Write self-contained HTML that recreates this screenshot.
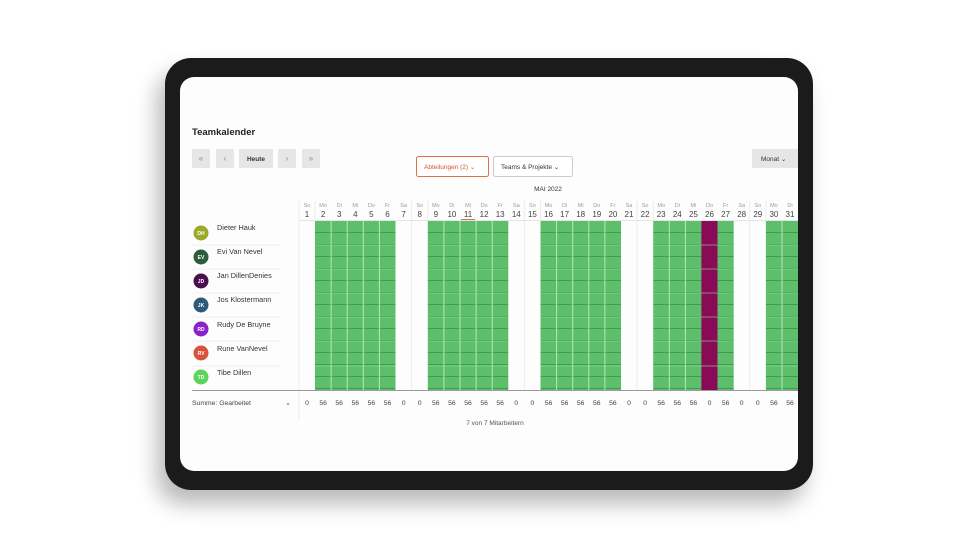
<!DOCTYPE html>
<html><head><meta charset="utf-8"><style>
html,body{margin:0;padding:0;background:#fff;width:960px;height:540px;overflow:hidden}
#sh{position:absolute;left:165px;top:58px;width:648px;height:432px;border-radius:26px;box-shadow:-8px 14px 22px rgba(0,0,0,0.28)}
svg{position:absolute;left:0;top:0;font-family:"Liberation Sans",sans-serif}
</style></head><body>
<div id="sh"></div>
<svg width="960" height="540" viewBox="0 0 960 540">
<defs>
<clipPath id="scr"><rect x="180" y="77" width="618" height="394" rx="14"/></clipPath>
<clipPath id="gc">
<rect x="315" y="221" width="80.5" height="169"/><rect x="427.8" y="221" width="80.5" height="169"/>
<rect x="540.5" y="221" width="80.5" height="169"/><rect x="653.2" y="221" width="80.5" height="169"/>
<rect x="765.9" y="221" width="34" height="169"/></clipPath>
<pattern id="hl" x="0" y="221" width="10" height="12" patternUnits="userSpaceOnUse">
<rect width="10" height="12" fill="#5dbf6b"/><rect y="11" width="10" height="1" fill="#3f9c4e"/></pattern>
</defs>
<rect x="165" y="58" width="648" height="432" rx="26" fill="#1b1b1b"/>
<rect x="180" y="77" width="618" height="394" rx="14" fill="#fdfdfd"/>
<g clip-path="url(#scr)">
<text x="192" y="135" font-size="9.5" font-weight="bold" fill="#222">Teamkalender</text>
<g fill="#e6e6e6">
<rect x="192" y="149" width="18" height="19"/><rect x="216" y="149" width="18" height="19"/>
<rect x="239" y="149" width="34" height="19"/><rect x="278" y="149" width="18" height="19"/>
<rect x="302" y="149" width="18" height="19"/><rect x="752" y="149" width="48" height="19"/></g>
<g font-size="8" fill="#888" text-anchor="middle">
<text x="201" y="161">«</text><text x="225" y="161">‹</text><text x="287" y="161">›</text><text x="311" y="161">»</text></g>
<text x="256" y="161" font-size="6.5" text-anchor="middle" fill="#333" font-weight="bold">Heute</text>
<text x="761" y="161" font-size="6.5" fill="#333">Monat  ⌄</text>
<rect x="416.5" y="156.5" width="72" height="20" rx="2" fill="#fff" stroke="#e0704a"/>
<text x="424" y="169" font-size="6.5" fill="#d9532e">Abteilungen (2)  ⌄</text>
<rect x="493.5" y="156.5" width="79" height="20" rx="2" fill="#fff" stroke="#ccc"/>
<text x="501" y="169" font-size="6.5" fill="#333">Teams &amp; Projekte  ⌄</text>
<text x="548" y="191" font-size="6.5" text-anchor="middle" fill="#333">MAI 2022</text>
<g stroke="#ececec" stroke-width="1">
<line x1="315" y1="201" x2="315" y2="220"/><line x1="411.6" y1="201" x2="411.6" y2="390"/><line x1="427.8" y1="201" x2="427.8" y2="220"/>
<line x1="524.4" y1="201" x2="524.4" y2="390"/><line x1="540.5" y1="201" x2="540.5" y2="220"/><line x1="637" y1="201" x2="637" y2="390"/>
<line x1="653.2" y1="201" x2="653.2" y2="220"/><line x1="749.7" y1="201" x2="749.7" y2="390"/><line x1="765.9" y1="201" x2="765.9" y2="220"/>
<line x1="299" y1="201" x2="299" y2="420"/></g>
<g font-size="5.5" fill="#999" text-anchor="middle">
<text x="307" y="207">So</text><text x="323.1" y="207">Mo</text><text x="339.2" y="207">Di</text><text x="355.3" y="207">Mi</text><text x="371.4" y="207">Do</text><text x="387.5" y="207">Fr</text><text x="403.6" y="207">Sa</text>
<text x="419.7" y="207">So</text><text x="435.8" y="207">Mo</text><text x="451.9" y="207">Di</text><text x="468" y="207">Mi</text><text x="484.1" y="207">Do</text><text x="500.2" y="207">Fr</text><text x="516.3" y="207">Sa</text>
<text x="532.4" y="207">So</text><text x="548.5" y="207">Mo</text><text x="564.6" y="207">Di</text><text x="580.7" y="207">Mi</text><text x="596.8" y="207">Do</text><text x="612.9" y="207">Fr</text><text x="629" y="207">Sa</text>
<text x="645.1" y="207">So</text><text x="661.2" y="207">Mo</text><text x="677.3" y="207">Di</text><text x="693.4" y="207">Mi</text><text x="709.5" y="207">Do</text><text x="725.6" y="207">Fr</text><text x="741.7" y="207">Sa</text>
<text x="757.8" y="207">So</text><text x="773.9" y="207">Mo</text><text x="790" y="207">Di</text></g>
<g font-size="8" fill="#444" text-anchor="middle">
<text x="307" y="217">1</text><text x="323.1" y="217">2</text><text x="339.2" y="217">3</text><text x="355.3" y="217">4</text><text x="371.4" y="217">5</text><text x="387.5" y="217">6</text><text x="403.6" y="217">7</text>
<text x="419.7" y="217">8</text><text x="435.8" y="217">9</text><text x="451.9" y="217">10</text><text x="468" y="217">11</text><text x="484.1" y="217">12</text><text x="500.2" y="217">13</text><text x="516.3" y="217">14</text>
<text x="532.4" y="217">15</text><text x="548.5" y="217">16</text><text x="564.6" y="217">17</text><text x="580.7" y="217">18</text><text x="596.8" y="217">19</text><text x="612.9" y="217">20</text><text x="629" y="217">21</text>
<text x="645.1" y="217">22</text><text x="661.2" y="217">23</text><text x="677.3" y="217">24</text><text x="693.4" y="217">25</text><text x="709.5" y="217">26</text><text x="725.6" y="217">27</text><text x="741.7" y="217">28</text>
<text x="757.8" y="217">29</text><text x="773.9" y="217">30</text><text x="790" y="217">31</text></g>
<rect x="461" y="219" width="14" height="2" fill="#e0704a"/>
<line x1="299" y1="220.5" x2="799" y2="220.5" stroke="#e5e5e5"/>
<g fill="url(#hl)">
<rect x="315" y="221" width="80.5" height="169"/><rect x="427.8" y="221" width="80.5" height="169"/>
<rect x="540.5" y="221" width="80.5" height="169"/><rect x="653.2" y="221" width="80.5" height="169"/>
<rect x="765.9" y="221" width="34" height="169"/></g>
<rect x="701.4" y="221" width="16.1" height="169" fill="#890a56"/>
<g stroke="#b5e8bc" stroke-width="1">
<line x1="331.1" y1="221" x2="331.1" y2="390"/><line x1="347.2" y1="221" x2="347.2" y2="390"/><line x1="363.3" y1="221" x2="363.3" y2="390"/><line x1="379.4" y1="221" x2="379.4" y2="390"/>
<line x1="443.9" y1="221" x2="443.9" y2="390"/><line x1="460" y1="221" x2="460" y2="390"/><line x1="476.1" y1="221" x2="476.1" y2="390"/><line x1="492.2" y1="221" x2="492.2" y2="390"/>
<line x1="556.6" y1="221" x2="556.6" y2="390"/><line x1="572.7" y1="221" x2="572.7" y2="390"/><line x1="588.8" y1="221" x2="588.8" y2="390"/><line x1="604.9" y1="221" x2="604.9" y2="390"/>
<line x1="669.3" y1="221" x2="669.3" y2="390"/><line x1="685.4" y1="221" x2="685.4" y2="390"/><line x1="782" y1="221" x2="782" y2="390"/></g>
<g stroke="#9ad7a4" stroke-width="0.8" opacity="0.8" clip-path="url(#gc)">
<line x1="315" y1="245" x2="800" y2="245"/><line x1="315" y1="269" x2="800" y2="269"/><line x1="315" y1="293" x2="800" y2="293"/><line x1="315" y1="317" x2="800" y2="317"/><line x1="315" y1="341" x2="800" y2="341"/><line x1="315" y1="366" x2="800" y2="366"/></g>
<g stroke="#eee"><line x1="192" y1="245" x2="280" y2="245"/><line x1="192" y1="269" x2="280" y2="269"/><line x1="192" y1="293" x2="280" y2="293"/><line x1="192" y1="317" x2="280" y2="317"/><line x1="192" y1="341" x2="280" y2="341"/><line x1="192" y1="366" x2="280" y2="366"/></g>
<circle cx="201" cy="233" r="7.5" fill="#9aab2a"/><circle cx="201" cy="257" r="7.5" fill="#2d5c3a"/>
<circle cx="201" cy="281" r="7.5" fill="#4a0f4c"/><circle cx="201" cy="305" r="7.5" fill="#2c5a78"/>
<circle cx="201" cy="329" r="7.5" fill="#8a22c8"/><circle cx="201" cy="353" r="7.5" fill="#d9533a"/>
<circle cx="201" cy="377" r="7.5" fill="#5cd45c"/>
<g font-size="5" fill="#fff" text-anchor="middle" font-weight="bold">
<text x="201" y="235">DH</text><text x="201" y="259">EV</text><text x="201" y="283">JD</text><text x="201" y="307">JK</text><text x="201" y="331">RD</text><text x="201" y="355">RV</text><text x="201" y="379">TD</text></g>
<g font-size="7.3" fill="#333">
<text x="217" y="230">Dieter Hauk</text><text x="217" y="254">Evi Van Nevel</text><text x="217" y="278">Jan DillenDenies</text><text x="217" y="302">Jos Klostermann</text><text x="217" y="327">Rudy De Bruyne</text><text x="217" y="351">Rune VanNevel</text><text x="217" y="375">Tibe Dillen</text></g>
<line x1="192" y1="390.5" x2="799" y2="390.5" stroke="#999"/>
<text x="192" y="405" font-size="6.8" fill="#444">Summe: Gearbeitet</text>
<text x="288" y="405" font-size="7" fill="#555" text-anchor="middle">⌄</text>
<g font-size="6.8" fill="#444" text-anchor="middle">
<text x="307" y="405">0</text><text x="323.1" y="405">56</text><text x="339.2" y="405">56</text><text x="355.3" y="405">56</text><text x="371.4" y="405">56</text><text x="387.5" y="405">56</text><text x="403.6" y="405">0</text>
<text x="419.7" y="405">0</text><text x="435.8" y="405">56</text><text x="451.9" y="405">56</text><text x="468" y="405">56</text><text x="484.1" y="405">56</text><text x="500.2" y="405">56</text><text x="516.3" y="405">0</text>
<text x="532.4" y="405">0</text><text x="548.5" y="405">56</text><text x="564.6" y="405">56</text><text x="580.7" y="405">56</text><text x="596.8" y="405">56</text><text x="612.9" y="405">56</text><text x="629" y="405">0</text>
<text x="645.1" y="405">0</text><text x="661.2" y="405">56</text><text x="677.3" y="405">56</text><text x="693.4" y="405">56</text><text x="709.5" y="405">0</text><text x="725.6" y="405">56</text><text x="741.7" y="405">0</text>
<text x="757.8" y="405">0</text><text x="773.9" y="405">56</text><text x="790" y="405">56</text></g>
<text x="495" y="425" font-size="6.5" fill="#555" text-anchor="middle">7 von 7 Mitarbeitern</text>
</g>
</svg>
</body></html>
